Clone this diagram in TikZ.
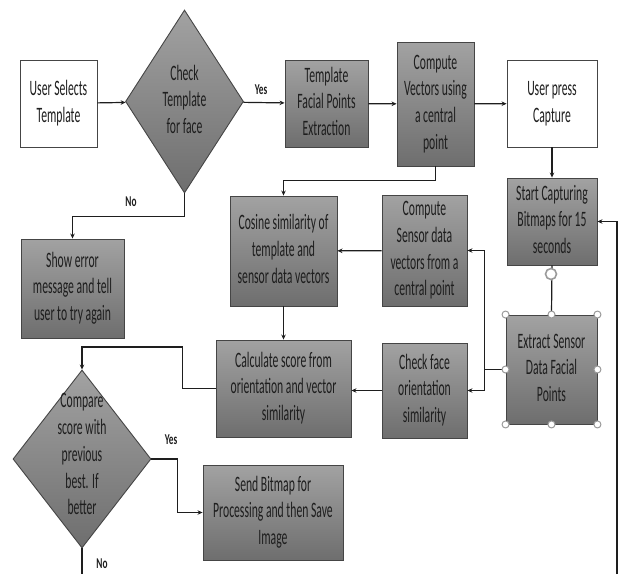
\documentclass[tikz,border=0pt]{standalone}
\usepackage{fontspec}
\setmainfont{Carlito}
\usepackage{graphicx}
\usepackage{tikz}
\usetikzlibrary{arrows.meta, positioning, calc, shapes.geometric}
\definecolor{boxtop}{HTML}{A2A2A2}
\definecolor{boxbot}{HTML}{6E6E6E}
\definecolor{edgeclr}{HTML}{454545}
\definecolor{inkclr}{HTML}{1E1E1E}
\definecolor{hdlclr}{HTML}{9A9A9A}
\newcommand{\sqz}[1]{\scalebox{0.53}[1]{\begin{tabular}{@{}c@{}}#1\end{tabular}}}
\newcommand{\lbl}[1]{\scalebox{0.62}[1]{\bfseries #1}}

\begin{document}
\begin{tikzpicture}[x=1pt, y=-1pt, >={Stealth[length=5pt,width=4.5pt]},
  txt/.style={text=inkclr, font=\fontsize{22}{26.7}\selectfont, inner sep=0pt},
  whitebox/.style={txt, rectangle, draw=edgeclr, line width=0.9pt, fill=white},
  graybox/.style={txt, rectangle, draw=edgeclr, line width=0.9pt, top color=boxtop, bottom color=boxbot},
  decide/.style={diamond, draw=edgeclr, line width=0.9pt, top color=boxtop, bottom color=boxbot, inner sep=0pt},
  flow/.style={draw=inkclr, line width=1.2pt},
  hdl/.style={circle, draw=hdlclr, fill=white, line width=1pt, minimum size=7pt, inner sep=0pt},
  tag/.style={text=inkclr, font=\fontsize{15}{18}\selectfont, inner sep=0pt}]
  \useasboundingbox (0,0) rectangle (624,574);
  % top row
  \node[whitebox, minimum width=77, minimum height=87] (usel) at (58.5,103.5) {\sqz{User Selects\\Template}};
  \node[decide, minimum width=118, minimum height=183] (chk) at (184.5,101.5) {};
  \node[txt] (chktxt) at (chk) {\sqz{Check\\Template\\for face}};
  \node[graybox, minimum width=83, minimum height=87] (tpl) at (326.5,103.5) {\sqz{Template\\Facial Points\\Extraction}};
  \node[graybox, minimum width=77, minimum height=124] (cvec) at (435.5,104) {\sqz{Compute\\Vectors using\\a central\\point}};
  \node[whitebox, minimum width=90, minimum height=87] (press) at (552,103.5) {\sqz{User press\\Capture}};
  % middle rows
  \node[graybox, minimum width=90, minimum height=87] (cap) at (552,221.5) {\sqz{Start Capturing\\Bitmaps for 15\\seconds}};
  \node[graybox, minimum width=103, minimum height=99] (err) at (72.5,288.5) {\sqz{Show error\\message and tell\\user to try again}};
  \node[graybox, minimum width=107, minimum height=110] (cos) at (283.5,251) {\sqz{Cosine similarity of\\template and\\sensor data vectors}};
  \node[graybox, minimum width=85, minimum height=111] (csen) at (424.5,250.5) {\sqz{Compute\\Sensor data\\vectors from a\\central point}};
  \node[graybox, minimum width=91, minimum height=109] (ext) at (551.5,369.5) {\sqz{Extract Sensor\\Data Facial\\Points}};
  \node[graybox, minimum width=85, minimum height=95] (cfo) at (424.5,390.5) {\sqz{Check face\\orientation\\similarity}};
  \node[graybox, minimum width=135, minimum height=97] (calc) at (283.5,388.5) {\sqz{Calculate score from\\orientation and vector\\similarity}};
  % bottom rows
  \node[decide, minimum width=138, minimum height=178] (cmp) at (82,459) {};
  \node[txt] (cmptxt) at (82,456) {\sqz{Compare\\score with\\previous\\best. If\\better}};
  \node[graybox, minimum width=140, minimum height=95] (send) at (273,512.5) {\sqz{Send Bitmap for\\Processing and then Save\\Image}};
  % connectors
  \draw[flow,->] (usel) -- (chk);
  \draw[flow,->] (chk) -- (tpl); \node[tag] (yes1) at (261,90) {\lbl{Yes}};
  \draw[flow,->] (tpl) -- (cvec);
  \draw[flow,->] (cvec) -- (press);
  \draw[flow,->] (press) -- (cap);
  \draw[flow,->] (cvec.south) -- ++(0,14) -| (cos.north);
  \draw[flow,->] (chk.south) -- ++(0,23) -| (err.north); \node[tag] (no1) at (131,202) {\lbl{No}};
  \draw[flow] (cap.south) -- (ext.north);
  \coordinate (split) at ([xshift=-21pt]ext.west);
  \draw[flow] (ext.west) -- (split);
  \draw[flow,->] (split) |- (csen.east);
  \draw[flow,->] (split) |- (cfo.east);
  \draw[flow,->] (csen) -- (cos);
  \draw[flow,->] (cfo.west) -- (cfo.west -| calc.east);
  \draw[flow,->] (cos) -- (calc);
  \draw[flow,->] (calc.west) -- ++(-33,0) -- ++(0,-41.5) -| (cmp.north);
  \draw[flow,->] (cmp.east) -- ++(26,0) |- (send.west); \node[tag] (yes2) at (171,440) {\lbl{Yes}};
  \coordinate (cmpend) at (82,574);
  \draw[flow] (cmp.south) -- (cmpend); \node[tag] (no2) at (102,564) {\lbl{No}};
  \coordinate (rbot) at (617,574);
  \draw[flow,->] (rbot) |- (cap.east);
  % selection handles
  \node[circle, draw=hdlclr, fill=white, line width=1.6pt, minimum size=11pt, inner sep=0pt] (rot) at (551,274) {};
  \foreach \a in {north west, north, north east, west, east, south west, south, south east}
    \node[hdl] at (ext.\a) {};
\end{tikzpicture}
\end{document}
